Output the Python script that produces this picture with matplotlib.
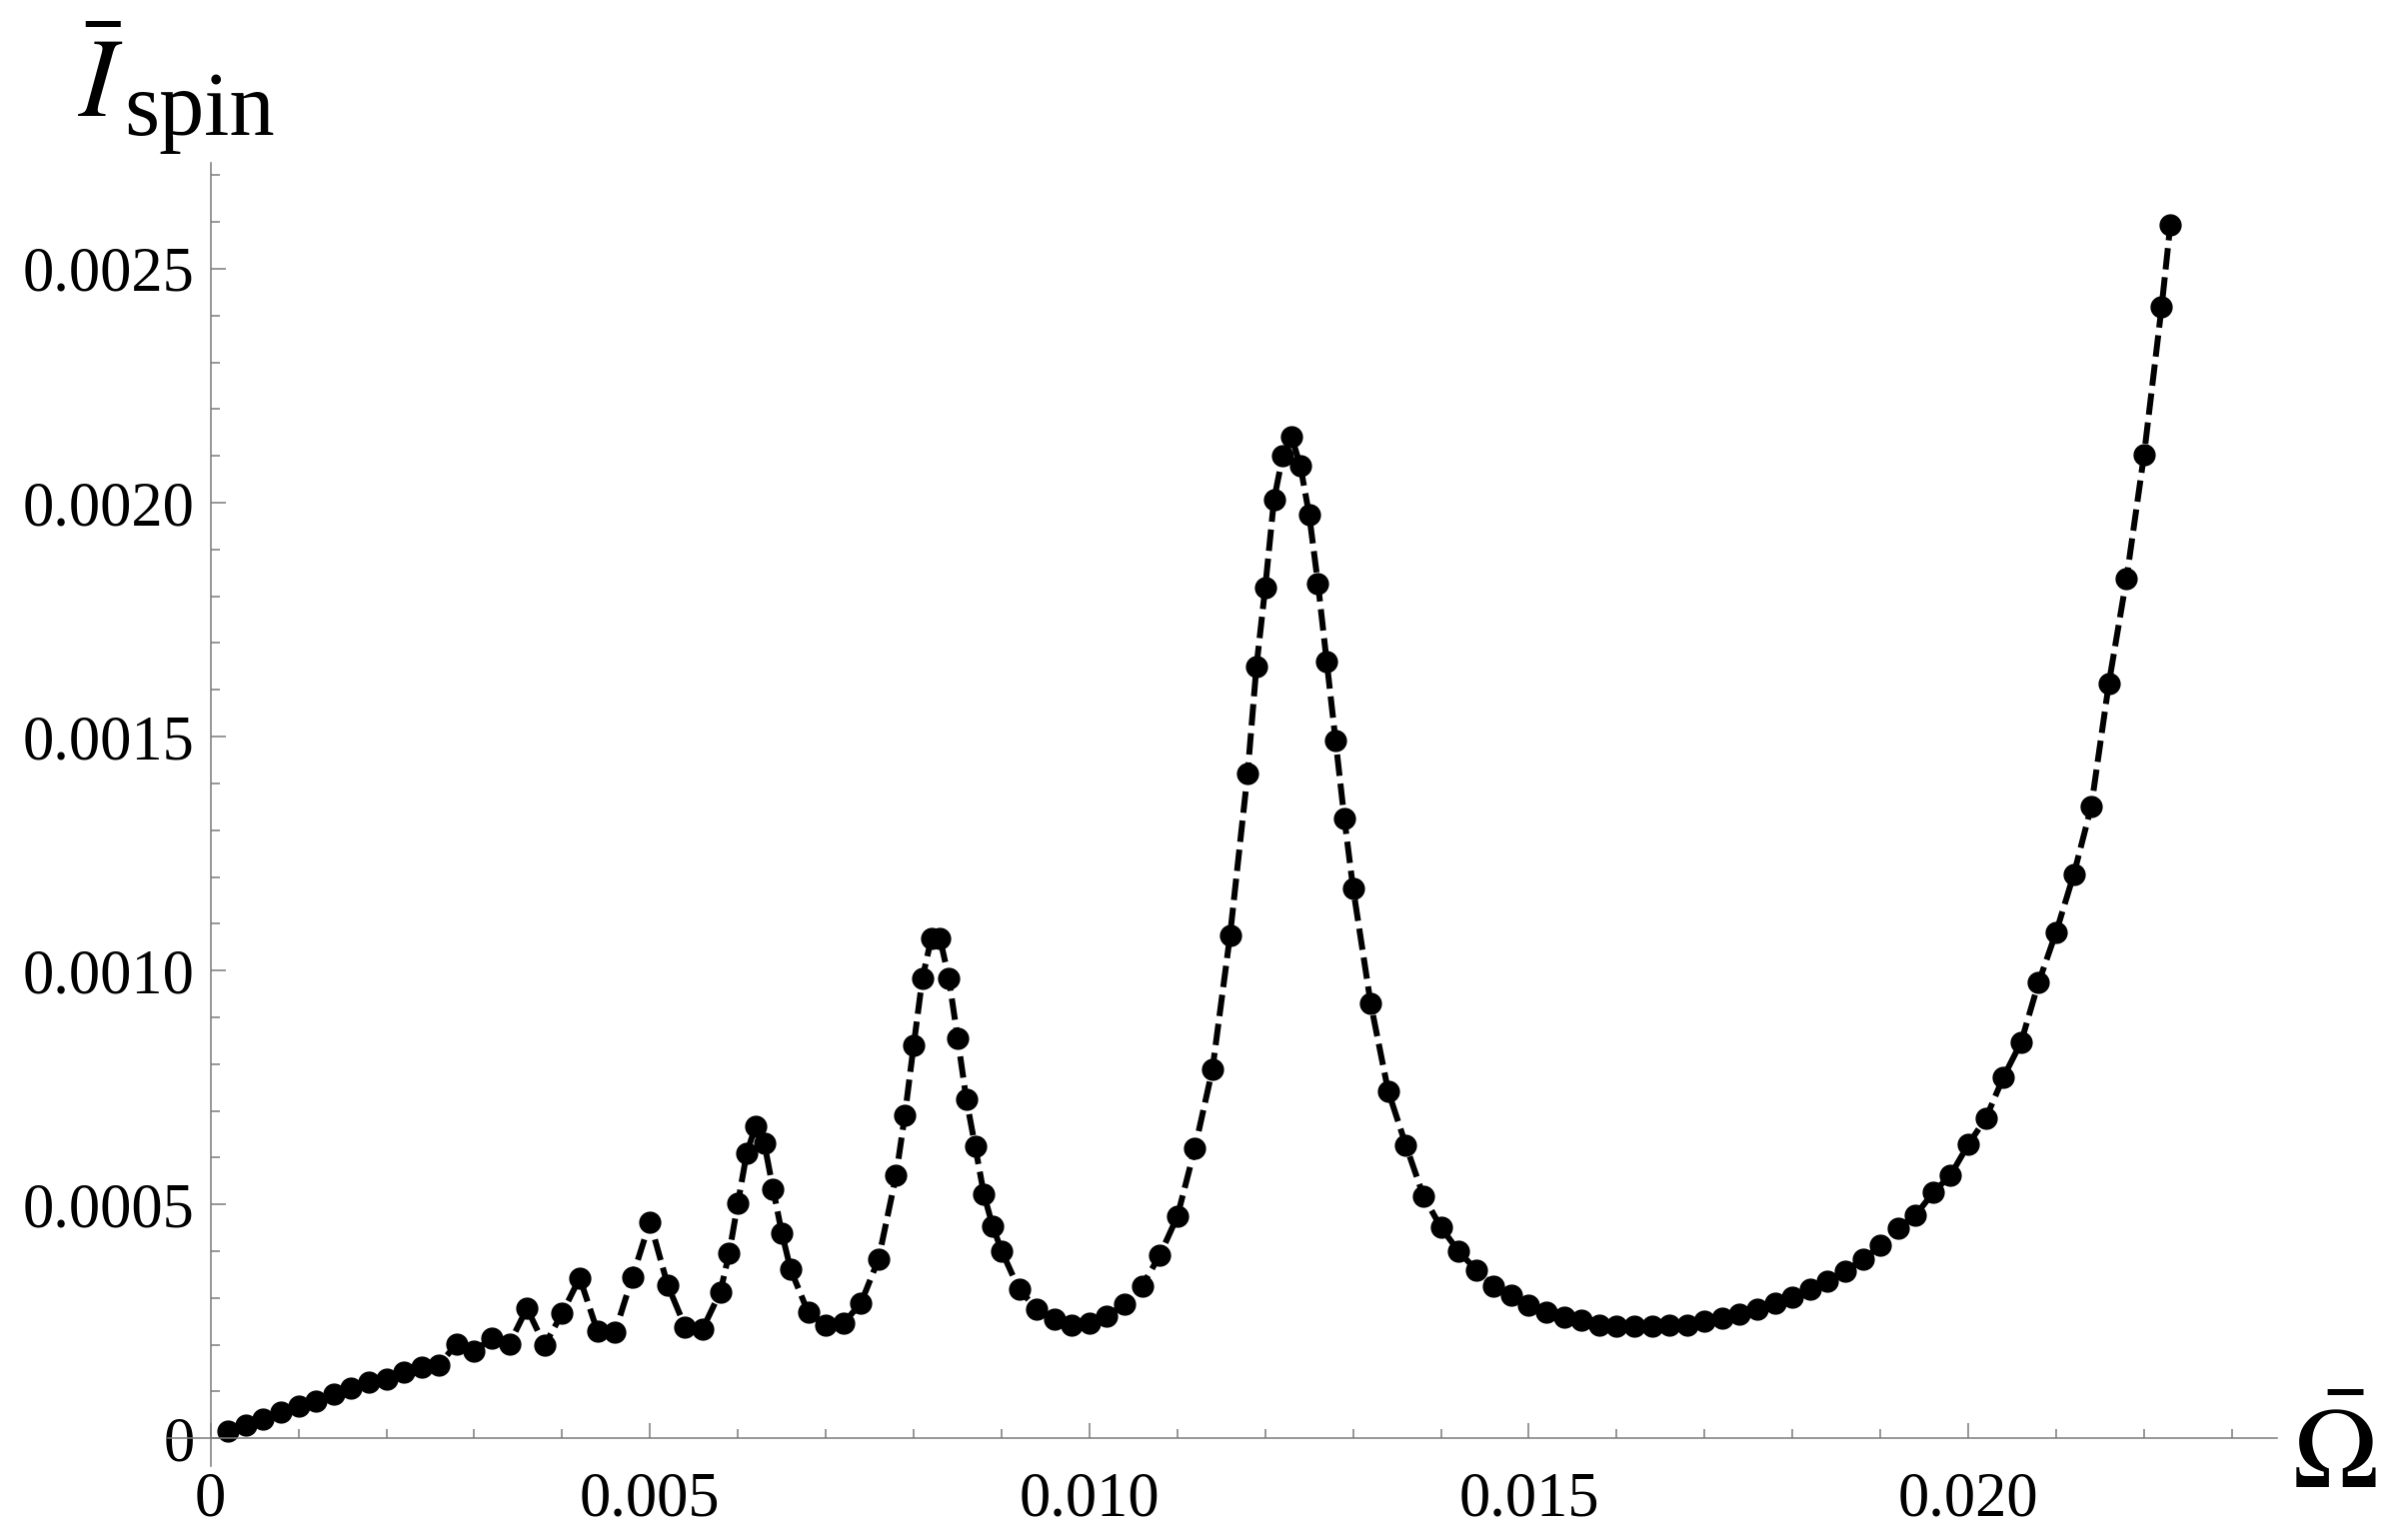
import matplotlib
matplotlib.use("Agg")
import matplotlib.pyplot as plt
from matplotlib.ticker import MultipleLocator, FuncFormatter

# frequency (Omega bar) and spin current (I_spin bar)
omega = [
    0.0002, 0.0004, 0.0006, 0.0008, 0.0010, 0.0012, 0.0014, 0.0016, 0.0018, 0.0020,
    0.0022, 0.0024, 0.0026, 0.0028, 0.0030, 0.0032, 0.0034, 0.0036, 0.0038, 0.0040,
    0.0042, 0.0044, 0.0046, 0.0048, 0.0050, 0.0052, 0.0054, 0.0056, 0.0058, 0.0059,
    0.0060, 0.0061, 0.0062, 0.0063, 0.0064, 0.0065, 0.0066, 0.0068, 0.0070, 0.0072,
    0.0074, 0.0076, 0.0078, 0.0079, 0.0080, 0.0081, 0.0082, 0.0083, 0.0084, 0.0085,
    0.0086, 0.0087, 0.0088, 0.0089, 0.0090, 0.0092, 0.0094, 0.0096, 0.0098, 0.0100,
    0.0102, 0.0104, 0.0106, 0.0108, 0.0110, 0.0112, 0.0114, 0.0116, 0.0118, 0.0119,
    0.0120, 0.0121, 0.0122, 0.0123, 0.0124, 0.0125, 0.0126, 0.0127, 0.0128, 0.0129,
    0.0130, 0.0132, 0.0134, 0.0136, 0.0138, 0.0140, 0.0142, 0.0144, 0.0146, 0.0148,
    0.0150, 0.0152, 0.0154, 0.0156, 0.0158, 0.0160, 0.0162, 0.0164, 0.0166, 0.0168,
    0.0170, 0.0172, 0.0174, 0.0176, 0.0178, 0.0180, 0.0182, 0.0184, 0.0186, 0.0188,
    0.0190, 0.0192, 0.0194, 0.0196, 0.0198, 0.0200, 0.0202, 0.0204, 0.0206, 0.0208,
    0.0210, 0.0212, 0.0214, 0.0216, 0.0218, 0.0220, 0.0222, 0.0223,
]
i_spin = [
    1.6e-5, 2.8e-5, 4.1e-5, 5.6e-5, 6.8e-5, 8.0e-5, 9.5e-5, 1.07e-4, 1.20e-4, 1.27e-4,
    1.42e-4, 1.52e-4, 1.57e-4, 2.02e-4, 1.87e-4, 2.14e-4, 2.02e-4, 2.78e-4, 1.99e-4, 2.67e-4,
    3.43e-4, 2.30e-4, 2.26e-4, 3.45e-4, 4.63e-4, 3.28e-4, 2.38e-4, 2.34e-4, 3.13e-4, 3.95e-4,
    5.03e-4, 6.09e-4, 6.67e-4, 6.31e-4, 5.33e-4, 4.39e-4, 3.61e-4, 2.69e-4, 2.42e-4, 2.46e-4,
    2.89e-4, 3.83e-4, 5.62e-4, 6.91e-4, 8.40e-4, 9.84e-4, 1.068e-3, 1.068e-3, 9.84e-4, 8.56e-4,
    7.24e-4, 6.24e-4, 5.21e-4, 4.53e-4, 4.01e-4, 3.18e-4, 2.77e-4, 2.54e-4, 2.43e-4, 2.46e-4,
    2.62e-4, 2.87e-4, 3.26e-4, 3.91e-4, 4.74e-4, 6.20e-4, 7.89e-4, 1.075e-3, 1.421e-3, 1.649e-3,
    1.818e-3, 2.006e-3, 2.101e-3, 2.141e-3, 2.079e-3, 1.975e-3, 1.828e-3, 1.661e-3, 1.492e-3, 1.326e-3,
    1.176e-3, 9.30e-4, 7.42e-4, 6.27e-4, 5.18e-4, 4.51e-4, 4.00e-4, 3.60e-4, 3.26e-4, 3.06e-4,
    2.84e-4, 2.70e-4, 2.60e-4, 2.52e-4, 2.43e-4, 2.40e-4, 2.40e-4, 2.40e-4, 2.42e-4, 2.43e-4,
    2.50e-4, 2.57e-4, 2.66e-4, 2.77e-4, 2.88e-4, 3.01e-4, 3.18e-4, 3.37e-4, 3.58e-4, 3.82e-4,
    4.12e-4, 4.50e-4, 4.77e-4, 5.25e-4, 5.63e-4, 6.28e-4, 6.84e-4, 7.72e-4, 8.46e-4, 9.74e-4,
    1.082e-3, 1.205e-3, 1.351e-3, 1.614e-3, 1.837e-3, 2.102e-3, 2.418e-3, 2.595e-3,
]

plt.rcParams['mathtext.fontset'] = 'stix'
plt.rcParams['font.family'] = ['Liberation Serif', 'DejaVu Serif']

fig = plt.figure(figsize=(23.91, 15.41), dpi=100)
ax = fig.add_axes([0.0701, 0.0478, 0.8825, 0.8466])

ax.plot(omega, i_spin, color='black', lw=4.3, linestyle=(0, (3.6, 1.3)),
        dash_capstyle='butt', marker='o', markersize=15, clip_on=False)

ax.set_xlim(-0.00049, 0.02351)
ax.set_ylim(-0.00006, 0.002727)

# Mathematica style axes through the origin
for side in ['top', 'right']:
    ax.spines[side].set_visible(False)
ax.spines['left'].set_position(('data', 0))
ax.spines['bottom'].set_position(('data', 0))
for side in ['left', 'bottom']:
    ax.spines[side].set_color('#7a7a7a')
    ax.spines[side].set_linewidth(1.1)

ax.xaxis.set_major_locator(MultipleLocator(0.005))
ax.xaxis.set_minor_locator(MultipleLocator(0.001))
ax.yaxis.set_major_locator(MultipleLocator(0.0005))
ax.yaxis.set_minor_locator(MultipleLocator(0.0001))
ax.xaxis.set_major_formatter(FuncFormatter(lambda v, p: '0' if abs(v) < 1e-12 else f'{v:.3f}'))
ax.yaxis.set_major_formatter(FuncFormatter(lambda v, p: '0' if abs(v) < 1e-12 else f'{v:.4f}'))

ax.tick_params(which='both', direction='in', color='#7a7a7a', width=1.1)
ax.tick_params(which='major', length=10.5)
ax.tick_params(which='minor', length=6.7)
ax.tick_params(axis='x', which='major', labelsize=45, pad=24)
ax.tick_params(axis='y', which='major', labelsize=45, pad=11.5)

# axis labels: I bar with a large roman subscript, Omega bar at the axis end
fig.text(0.0325, 0.9239, r'$\bar{I}$', fontsize=81, va='baseline', ha='left')
fig.text(0.0519, 0.9124, 'spin', fontsize=65, va='baseline', ha='left')
fig.text(0.959, 0.0337, r'$\bar{\Omega}$', fontsize=83, va='baseline', ha='left')

fig.savefig('out.png', dpi=100)
